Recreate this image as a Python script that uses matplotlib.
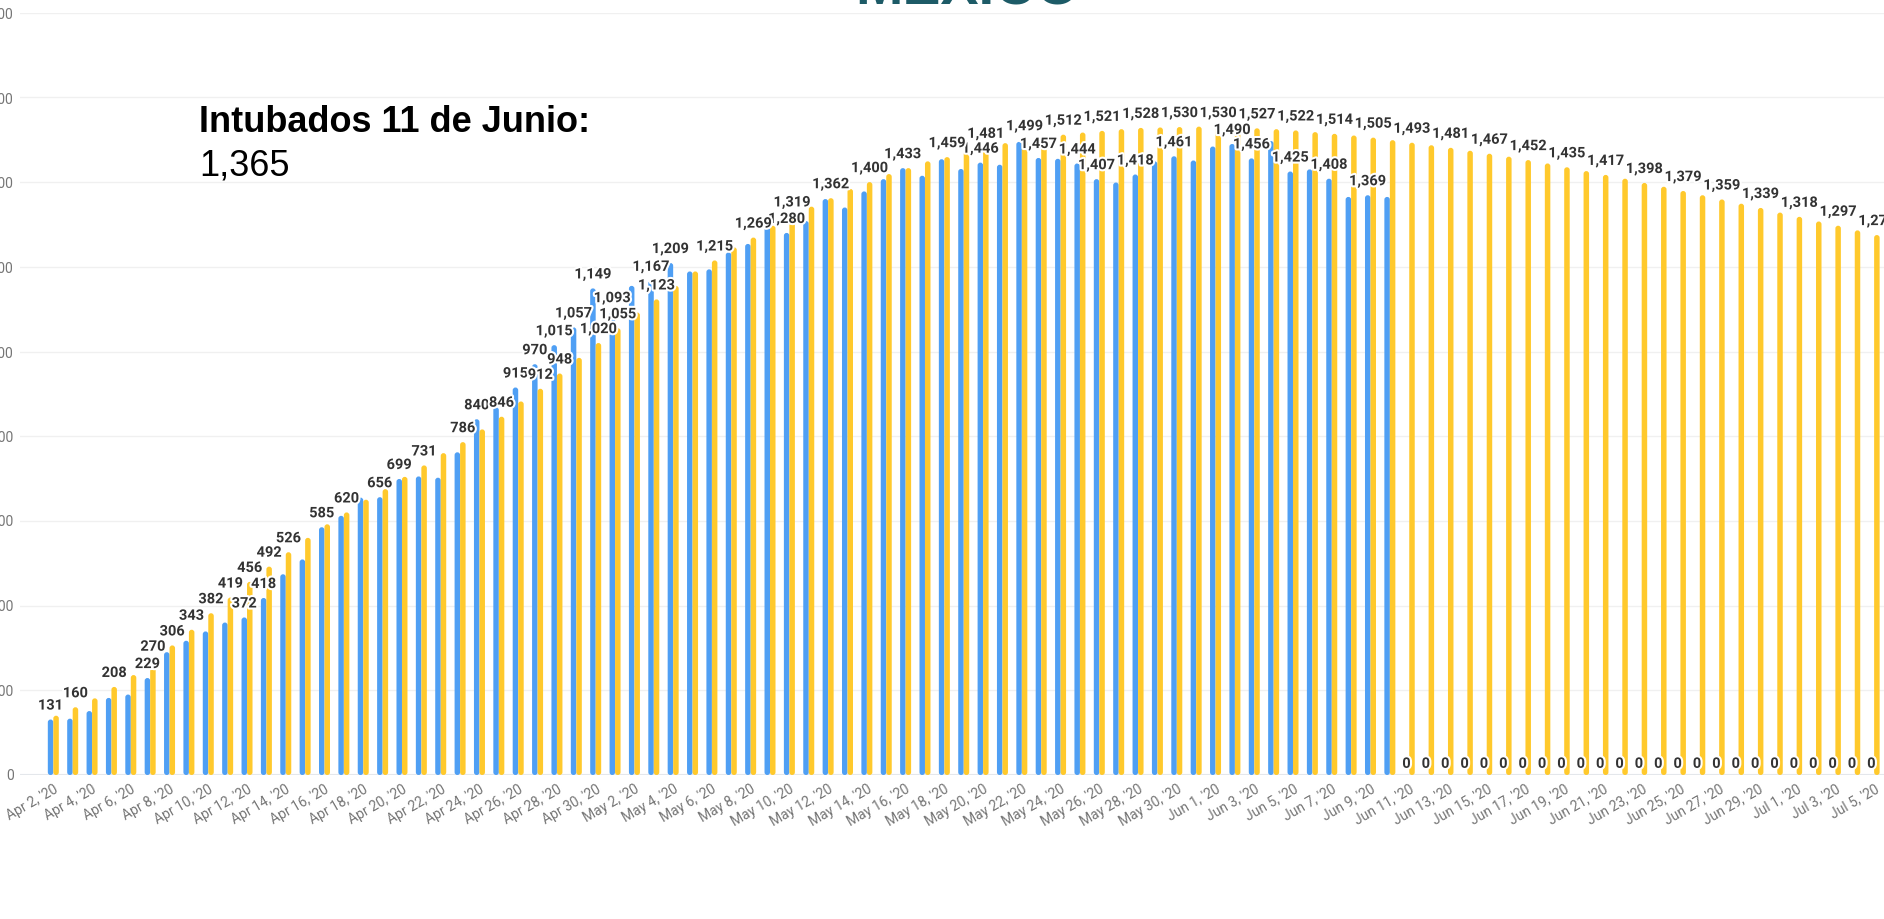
import numpy as np
import pandas as pd
import matplotlib
matplotlib.use("Agg")
import matplotlib.pyplot as plt
import matplotlib.patheffects as pe
from matplotlib.patches import FancyBboxPatch

plt.rcParams['font.family'] = ['Roboto', 'DejaVu Sans']

# -----------------------------
# Data
# -----------------------------
dates = pd.date_range("2020-04-02", "2020-07-05", freq="D")

# blue: intubated patients reported (Apr 2 .. Jun 10), 0 afterwards
intubados = [
    131, 133, 151, 182, 190, 229, 290, 317, 339, 360,
    372, 418, 474, 509, 585, 612, 655, 656, 699, 705,
    702, 762, 840, 868, 915, 970, 1015, 1057, 1149, 1093,
    1155, 1167, 1209, 1189, 1194, 1234, 1254, 1318, 1280, 1308,
    1360, 1340, 1378, 1407, 1433, 1415, 1454, 1431, 1446, 1441,
    1495, 1457, 1455, 1444, 1407, 1399, 1418, 1449, 1461, 1451,
    1484, 1490, 1456, 1497, 1425, 1430, 1408, 1365, 1369, 1365,
    0, 0, 0, 0, 0, 0, 0, 0, 0, 0,
    0, 0, 0, 0, 0, 0, 0, 0, 0, 0,
    0, 0, 0, 0, 0,
]

# yellow: projection
proyeccion = [
    140, 160, 181, 208, 236, 270, 306, 343, 382, 419,
    456, 492, 526, 560, 592, 620, 650, 675, 704, 731,
    760, 786, 816, 846, 882, 912, 948, 985, 1020, 1055,
    1092, 1123, 1155, 1189, 1215, 1246, 1269, 1297, 1319, 1342,
    1362, 1384, 1400, 1419, 1433, 1449, 1459, 1472, 1481, 1492,
    1499, 1507, 1512, 1517, 1521, 1525, 1528, 1529, 1530, 1531,
    1530, 1529, 1527, 1525, 1522, 1518, 1514, 1510, 1505, 1499,
    1493, 1487, 1481, 1474, 1467, 1460, 1452, 1444, 1435, 1426,
    1417, 1408, 1398, 1389, 1379, 1369, 1359, 1349, 1339, 1328,
    1318, 1307, 1297, 1286, 1275,
]

# which bars carry a visible value label in the reference
blue_label_idx = [0, 5, 10, 11, 14, 17, 18, 22, 24, 25, 26, 27, 28, 29, 31, 32,
                  38, 44, 48, 51, 53, 54, 56, 58, 61, 62, 64, 66, 68,
                  70, 71, 72, 73, 74, 75, 76, 77, 78, 79, 80, 81, 82, 83, 84,
                  85, 86, 87, 88, 89, 90, 91, 92, 93, 94]
yellow_label_idx = [1, 3, 5, 6, 7, 8, 9, 10, 11, 12, 15, 19, 21, 23, 25, 26, 28,
                    29, 31, 34, 36, 38, 40, 42, 46, 48, 50, 52, 54, 56, 58, 60,
                    62, 64, 66, 68, 70, 72, 74, 76, 78, 80, 82, 84, 86, 88, 90,
                    92, 94]

y_ticks = [0, 200, 400, 600, 800, 1000, 1200, 1400, 1600, 1800]

BLUE = "#4f9ff4"
YELLOW = "#ffc92c"

# -----------------------------
# Figure
# -----------------------------
W, H = 1884, 919
fig = plt.figure(figsize=(W / 100, H / 100), dpi=100)
ax_h = 775 - 12.7
ax = fig.add_axes([20 / W, 144 / H, 1864 / W, ax_h / H])

XMIN, XMAX, YMAX = -1.72, 94.51, 1800
ax.set_xlim(XMIN, XMAX)
ax.set_ylim(0, YMAX)

x = np.arange(len(dates))
w = 0.284
# aspect between x-units and y-units in pixels, so the bar tops come out round
aspect = (1864 / (XMAX - XMIN)) / (ax_h / YMAX)


def rounded_bars(xs, vals, color):
    bars = ax.bar(xs, vals, width=w, color=color, zorder=2, linewidth=0)
    for p in bars.patches:
        bx, by = p.get_x(), p.get_y()
        bw, bh = p.get_width(), p.get_height()
        p.remove()
        if bh <= 0:
            continue
        ax.add_patch(FancyBboxPatch((bx, by), bw, bh,
                                    boxstyle=f"round,pad=0,rounding_size={bw / 2}",
                                    mutation_aspect=aspect, facecolor=color,
                                    linewidth=0, zorder=2))


rounded_bars(x - w / 2, intubados, BLUE)
rounded_bars(x + w / 2, proyeccion, YELLOW)

ax.set_yticks(y_ticks)
ax.set_yticklabels([f"{v:,}" for v in y_ticks])
ax.yaxis.grid(True, color="#f0f0f0", linewidth=1, zorder=0)
ax.set_axisbelow(True)
for s in ax.spines.values():
    s.set_visible(False)
ax.axhline(0, color="#e4e7eb", linewidth=1.5, zorder=1)

ax.tick_params(axis='y', length=0, pad=4.5, labelsize=10, labelcolor="#757575")
ax.set_xticks(x[::2])
ax.set_xticklabels([f"{d:%b} {d.day}, '20" for d in dates[::2]],
                   rotation=30, ha='right', rotation_mode='anchor')
ax.tick_params(axis='x', length=0, pad=5, labelsize=10, labelcolor="#757575")

halo = [pe.withStroke(linewidth=3, foreground='white')]


def put_label(xpos, val):
    off = 3 if val == 0 else 5
    ax.annotate(f"{val:,}", (xpos, val), xytext=(0, off), textcoords='offset points',
                ha='center', va='bottom', fontsize=10.5, fontweight='bold',
                color='#333333', path_effects=halo, zorder=5, annotation_clip=False)


for i in blue_label_idx:
    put_label(x[i] - w / 2, intubados[i])
for i in yellow_label_idx:
    put_label(x[i] + w / 2, proyeccion[i])

# headline text
fig.text(199 / W, 1 - 131.7 / H, "Intubados 11 de Junio:", fontsize=26,
         fontweight='bold', family='Liberation Sans', va='baseline', color='black')
fig.text(199 / W, 1 - 175 / H, "1,365", fontsize=26, family='Liberation Sans',
         va='baseline', color='black')

# title cut off at the top edge
fig.text(968 / W, 1 - 4 / H, "MÉXICO", fontsize=41, fontweight='bold',
         family='Liberation Sans', ha='center', va='baseline', color='#1d5b67')

fig.savefig('out.png', dpi=100)
